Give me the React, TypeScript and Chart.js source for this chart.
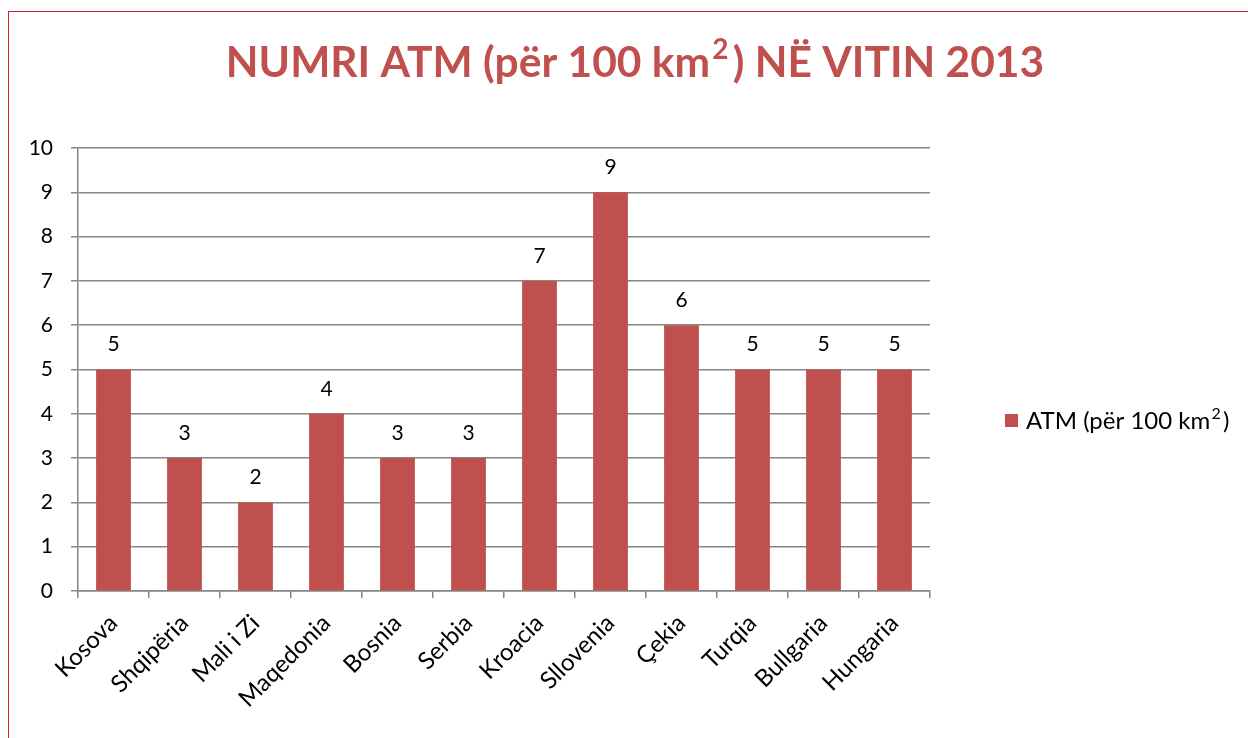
import React, { useEffect, useRef } from "react";
import { Chart, registerables } from "chart.js";

Chart.register(...registerables);

const categories = [
  "Kosova", "Shqipëria", "Mali i Zi", "Maqedonia", "Bosnia", "Serbia",
  "Kroacia", "Sllovenia", "Çekia", "Turqia", "Bullgaria", "Hungaria",
];
const atmValues = [5, 3, 2, 4, 3, 3, 7, 9, 6, 5, 5, 5];
const seriesLabel = "ATM (për 100 km²)";
const titleText = "NUMRI ATM (për 100 km²) NË VITIN 2013";

const FONT = "Lato, 'Open Sans', sans-serif";
const BAR = "#C0504D";

const valueLabels = {
  id: "valueLabels",
  afterDatasetsDraw(chart: any) {
    const ctx = chart.ctx;
    const meta = chart.getDatasetMeta(0);
    ctx.save();
    ctx.font = `21px ${FONT}`;
    ctx.fillStyle = "#000";
    ctx.textAlign = "center";
    ctx.textBaseline = "middle";
    meta.data.forEach((bar: any, i: number) => {
      const v = chart.data.datasets[0].data[i];
      ctx.fillText(String(v), bar.x, bar.y - 25);
    });
    ctx.restore();
  },
};

function drawSup(ctx: any, text: string, x: number, y: number, size: number, bold: boolean) {
  const parts = text.split("²");
  const w = bold ? "bold " : "";
  let cx = x;
  parts.forEach((p, i) => {
    ctx.font = `${w}${size}px ${FONT}`;
    ctx.fillText(p, cx, y);
    cx += ctx.measureText(p).width;
    if (i < parts.length - 1) {
      const ss = Math.round(size * 0.65);
      ctx.font = `${w}${ss}px ${FONT}`;
      ctx.fillText("2", cx + size * 0.05, y - size * 0.3);
      cx += ctx.measureText("2").width + size * 0.15;
    }
  });
  return cx - x;
}

function measureSup(ctx: any, text: string, size: number, bold: boolean) {
  const parts = text.split("²");
  const w = bold ? "bold " : "";
  let total = 0;
  parts.forEach((p, i) => {
    ctx.font = `${w}${size}px ${FONT}`;
    total += ctx.measureText(p).width;
    if (i < parts.length - 1) {
      const ss = Math.round(size * 0.65);
      ctx.font = `${w}${ss}px ${FONT}`;
      total += ctx.measureText("2").width + size * 0.15;
    }
  });
  return total;
}

const titleAndLegend = {
  id: "titleAndLegend",
  afterDraw(chart: any) {
    const ctx = chart.ctx;
    ctx.save();
    ctx.textAlign = "left";
    ctx.textBaseline = "middle";
    ctx.fillStyle = BAR;
    const tw = measureSup(ctx, titleText, 42.5, true);
    drawSup(ctx, titleText, 635 - tw / 2, 63, 42.5, true);
    // legend
    ctx.fillStyle = BAR;
    ctx.fillRect(1005, 414, 13, 13);
    ctx.fillStyle = "#000";
    drawSup(ctx, chart.data.datasets[0].label, 1026, 421, 24, false);
    ctx.restore();
  },
};

export default function App() {
  const ref = useRef<HTMLCanvasElement>(null);
  useEffect(() => {
    if (!ref.current) return;
    const chart = new Chart(ref.current, {
      type: "bar",
      data: {
        labels: categories,
        datasets: [
          {
            label: seriesLabel,
            data: atmValues,
            backgroundColor: BAR,
            barPercentage: 0.49,
            categoryPercentage: 1,
          },
        ],
      },
      options: {
        animation: false,
        responsive: false,
        maintainAspectRatio: false,
        layout: { padding: { left: 0, top: 148, right: 318, bottom: 0 } },
        plugins: {
          legend: { display: false },
          title: { display: false },
          tooltip: { enabled: false },
        },
        scales: {
          x: {
            afterFit: (s: any) => { s.height = 147; },
            grid: {
              display: true,
              drawOnChartArea: false,
              drawTicks: true,
              tickLength: 7,
              color: "#868686",
              lineWidth: 1.5,
              offset: true,
            },
            border: { display: true, color: "#868686", width: 1.5 },
            ticks: {
              color: "#000",
              font: { family: FONT, size: 24 },
              maxRotation: 45,
              minRotation: 45,
              autoSkip: false,
              padding: 11,
            },
          },
          y: {
            min: 0,
            max: 10,
            afterFit: (s: any) => { s.width = 78; },
            grid: {
              color: "#868686",
              lineWidth: 1.5,
              drawTicks: true,
              tickLength: 7,
            },
            border: { display: true, color: "#868686", width: 1.5 },
            ticks: {
              stepSize: 1,
              color: "#000",
              font: { family: FONT, size: 21 },
              padding: 18,
            },
          },
        },
      },
      plugins: [valueLabels, titleAndLegend],
    });
    return () => chart.destroy();
  }, []);

  return (
    <div style={{ position: "fixed", left: 0, top: 0, width: 1248, height: 738, overflow: "hidden", background: "#fff" }}>
      <canvas ref={ref} width={1248} height={738} style={{ position: "absolute", left: 0, top: 0, width: 1248, height: 738 }} />
      <div style={{ position: "absolute", left: 8, top: 11, width: 1400, height: 900, border: "1.5px solid #D2222C", boxSizing: "border-box", pointerEvents: "none" }} />
    </div>
  );
}
